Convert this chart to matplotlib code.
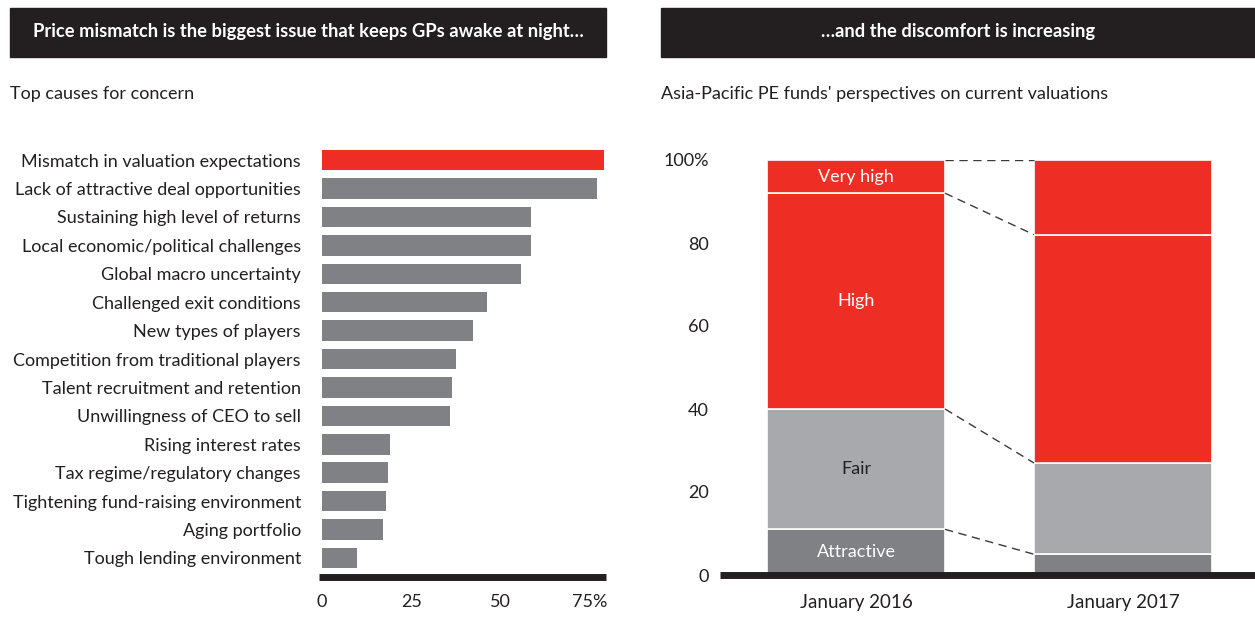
import matplotlib.pyplot as plt

plt.rcParams['font.family'] = ['Lato', 'DejaVu Sans']

# left panel: top causes for concern (% of respondents)
causes = [
    "Mismatch in valuation expectations",
    "Lack of attractive deal opportunities",
    "Sustaining high level of returns",
    "Local economic/political challenges",
    "Global macro uncertainty",
    "Challenged exit conditions",
    "New types of players",
    "Competition from traditional players",
    "Talent recruitment and retention",
    "Unwillingness of CEO to sell",
    "Rising interest rates",
    "Tax regime/regulatory changes",
    "Tightening fund-raising environment",
    "Aging portfolio",
    "Tough lending environment",
]
cause_pct = [79, 77, 58.6, 58.4, 55.6, 46.3, 42.3, 37.4, 36.3, 35.8, 19.1, 18.6, 17.8, 17, 9.7]
x_ticks = [0, 25, 50, 75]
x_ticklabels = ["0", "25", "50", "75%"]

# right panel: perspectives on valuations (%)
periods = ["January 2016", "January 2017"]
segments = ["Attractive", "Fair", "High", "Very high"]
attractive = [11, 5]
fair = [29, 22]
high = [52, 55]
very_high = [8, 18]
y_ticks = [0, 20, 40, 60, 80, 100]
y_ticklabels = ["0", "20", "40", "60", "80", "100%"]

RED = "#ee2e24"
DARK = "#808184"
LIGHT = "#a7a9ac"
HEAD = "#231f20"
TXT = "#231f20"
FS = 13

W, H = 1255, 618
fig = plt.figure(figsize=(W / 100, H / 100), dpi=100)


def fx(px):
    return px / W


def fy(py):
    return 1 - py / H


# header boxes
for x0, x1, title in [(10, 606, "Price mismatch is the biggest issue that keeps GPs awake at night…"),
                      (661, 1255, "…and the discomfort is increasing")]:
    fig.patches.append(plt.Rectangle((fx(x0), fy(57)), fx(x1 - x0), (57 - 8) / H,
                                     transform=fig.transFigure, color=HEAD, zorder=0))
    fig.text(fx((x0 + x1) / 2), fy(32), title, color="white", fontsize=13.2, fontweight="bold",
             ha="center", va="center")

fig.text(fx(10), fy(94), "Top causes for concern", fontsize=FS, color=TXT, va="center")
fig.text(fx(661), fy(94), "Asia-Pacific PE funds' perspectives on current valuations",
         fontsize=FS, color=TXT, va="center")

# ---- left chart
ax1 = fig.add_axes([fx(319), fy(577), fx(606 - 319), (577 - 145) / H])
ypos = list(range(len(causes)))
colors = [RED] + [DARK] * (len(causes) - 1)
ax1.barh(ypos, cause_pct, height=0.72, color=colors)
ax1.set_ylim(len(causes) - 1 + 0.67, -0.53)
ax1.set_xlim(-0.85, 79.5)
ax1.set_yticks(ypos)
ax1.set_yticklabels(causes, fontsize=FS, color=TXT)
ax1.set_xticks(x_ticks)
ax1.set_xticklabels(x_ticklabels, fontsize=FS, color=TXT)
ax1.tick_params(length=0, axis="y", pad=13)
ax1.tick_params(length=0, axis="x", pad=12)
for s in ["top", "right", "left"]:
    ax1.spines[s].set_visible(False)
ax1.spines["bottom"].set_linewidth(5)
ax1.spines["bottom"].set_color(HEAD)
ax1.spines["bottom"].set_capstyle("butt")

# ---- right chart
ax2 = fig.add_axes([fx(720), fy(575), fx(1255 - 720), (575 - 160) / H])
xs = [0, 1]
bw = 0.667
bottom = [0, 0]
seg_colors = [DARK, LIGHT, RED, RED]
tops = []
for vals, c in zip([attractive, fair, high, very_high], seg_colors):
    ax2.bar(xs, vals, bottom=bottom, width=bw, color=c, edgecolor="white", linewidth=1.2)
    bottom = [b + v for b, v in zip(bottom, vals)]
    tops.append(list(bottom))

# segment labels on first bar
base = 0
for name, vals, col in zip(segments, [attractive, fair, high, very_high], ["white", TXT, "white", "white"]):
    ax2.text(0, base + vals[0] / 2, name, ha="center", va="center", color=col, fontsize=FS)
    base += vals[0]

# dashed connectors between bars
for t in tops:
    ax2.plot([bw / 2, 1 - bw / 2], [t[0], t[1]], color="#3a3a3a", lw=1, ls=(0, (6, 4)))

ax2.set_xlim(-0.509, 1.494)
ax2.set_ylim(0, 100)
ax2.set_xticks(xs)
ax2.set_xticklabels(periods, fontsize=FS + 0.5, color=TXT)
ax2.set_yticks(y_ticks)
ax2.set_yticklabels(y_ticklabels, fontsize=FS, color=TXT)
ax2.tick_params(length=0, axis="x", pad=14)
ax2.tick_params(length=0, axis="y", pad=8)
for s in ["top", "right", "left"]:
    ax2.spines[s].set_visible(False)
ax2.spines["bottom"].set_linewidth(5)
ax2.spines["bottom"].set_color(HEAD)
ax2.spines["bottom"].set_capstyle("butt")

fig.savefig("out.png", dpi=100)
